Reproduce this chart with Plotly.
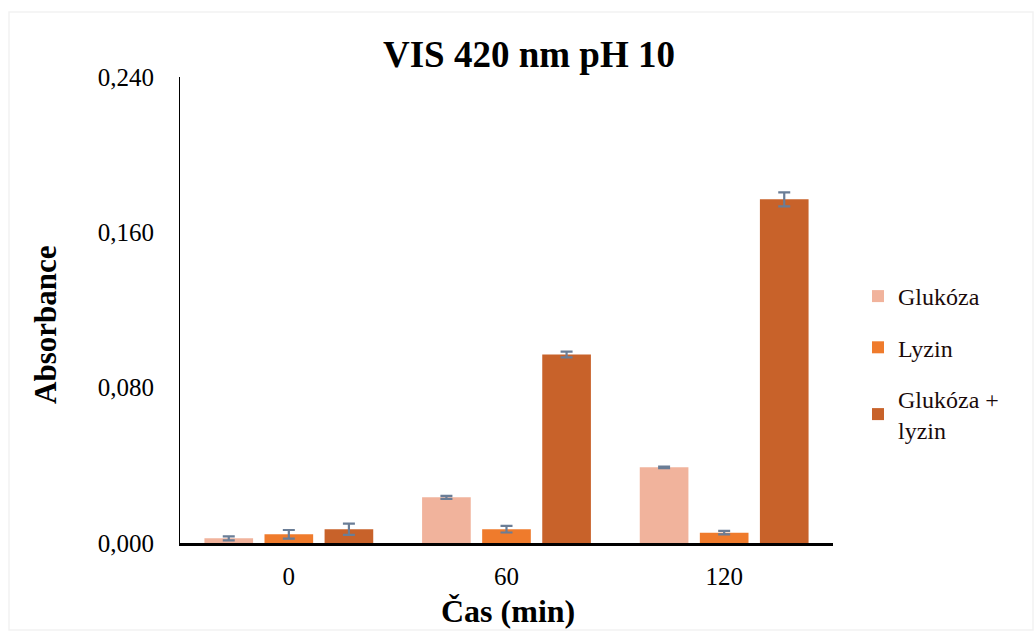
import plotly.graph_objects as go

# Sampling times (min) and absorbance at 420 nm, pH 10
times = ["0", "60", "120"]
series_names = ["Glukóza", "Lyzin", "Glukóza +<br>lyzin"]
glukoza = [0.0024, 0.0235, 0.0390]
glukoza_err = [0.0010, 0.0008, 0.0004]
lyzin = [0.0045, 0.0071, 0.0053]
lyzin_err = [0.0022, 0.0017, 0.0009]
glukoza_lyzin = [0.0071, 0.0971, 0.1770]
glukoza_lyzin_err = [0.0029, 0.0015, 0.0036]

y_ticks = [0.0, 0.08, 0.16, 0.24]
y_tick_labels = ["0,000", "0,080", "0,160", "0,240"]

colors = ["#F1B39C", "#EF7B2C", "#C8622A"]
values = [glukoza, lyzin, glukoza_lyzin]
errors = [glukoza_err, lyzin_err, glukoza_lyzin_err]

FONT = "Liberation Serif"

fig = go.Figure()
for i, (name, vals, errs, col) in enumerate(zip(series_names, values, errors, colors)):
    fig.add_trace(go.Bar(
        x=times, y=vals, name=name, legendgroup=f"g{i}",
        marker=dict(color=col, line=dict(width=0)),
        error_y=dict(type="data", array=errs, visible=True,
                     color="#6A7D96", thickness=2.2, width=6),
    ))

W, H = 1036, 635
L, R, T, B = 180, 203, 77, 92

def px_x(px):
    return (px - L) / (W - L - R)

def px_y(py):
    return (H - B - py) / (H - T - B)

fig.update_layout(
    width=W, height=H,
    margin=dict(l=L, r=R, t=T, b=B),
    paper_bgcolor="white", plot_bgcolor="white",
    font=dict(family=FONT, color="black", size=25),
    barmode="group", bargap=0.172, bargroupgap=0.19,
    showlegend=True,
    legend=dict(
        x=px_x(858), y=px_y(274), xanchor="left", yanchor="top",
        font=dict(family=FONT, size=24, color="#1a0a0a"),
        tracegroupgap=17, bgcolor="rgba(0,0,0,0)",
    ),
    xaxis=dict(
        showline=True, linecolor="black", linewidth=2.5,
        showgrid=False, ticks="", ticklabelstandoff=9,
        tickfont=dict(family=FONT, size=25),
    ),
    yaxis=dict(
        range=[0, 0.24], showline=True, linecolor="black", linewidth=1.2,
        showgrid=False, zeroline=False, ticks="",
        tickvals=y_ticks, ticktext=y_tick_labels,
        ticklabelstandoff=20, tickfont=dict(family=FONT, size=25),
    ),
    shapes=[dict(
        type="rect", xref="paper", yref="paper",
        x0=px_x(9), x1=px_x(1033), y0=px_y(630), y1=px_y(12),
        line=dict(color="#f2f2f2", width=1.5), layer="below",
    )],
    annotations=[
        dict(text="<b>VIS 420 nm pH 10</b>", xref="paper", yref="paper",
             x=px_x(529), y=px_y(55), xanchor="center", yanchor="middle",
             showarrow=False, font=dict(family=FONT, size=37, color="black")),
        dict(text="<b>Absorbance</b>", xref="paper", yref="paper",
             x=px_x(45), y=px_y(325), xanchor="center", yanchor="middle",
             textangle=-90, showarrow=False,
             font=dict(family=FONT, size=31, color="black")),
        dict(text="<b>Čas (min)</b>", xref="paper", yref="paper",
             x=px_x(508), y=px_y(611), xanchor="center", yanchor="middle",
             showarrow=False, font=dict(family=FONT, size=32, color="black")),
    ],
)

fig.write_html("out.html")
